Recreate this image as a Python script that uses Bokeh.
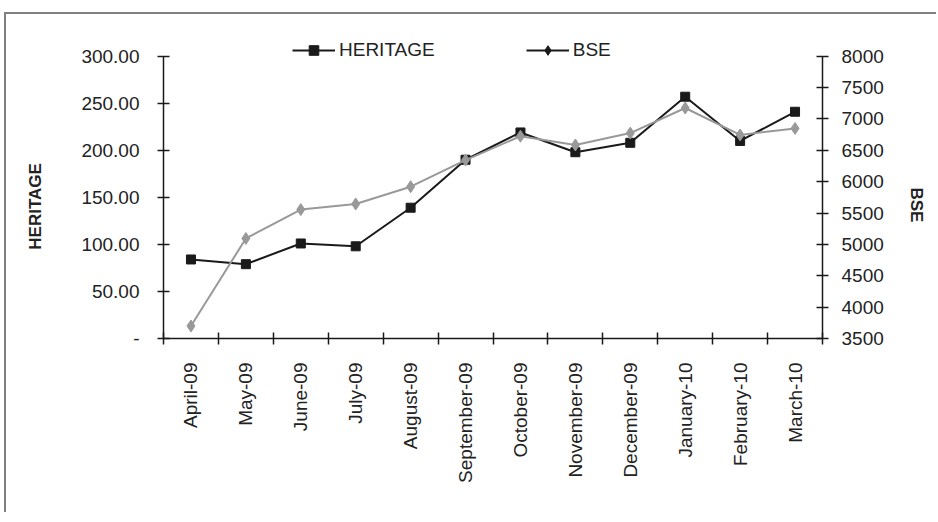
import math
from bokeh.plotting import figure
from bokeh.models import Range1d, LinearAxis, FixedTicker, Legend, LegendItem
from bokeh.embed import file_html
from bokeh.resources import INLINE

months = ["April-09", "May-09", "June-09", "July-09", "August-09", "September-09",
          "October-09", "November-09", "December-09", "January-10", "February-10", "March-10"]
heritage = [84, 79, 101, 98, 139, 190, 219, 198, 208, 257, 210, 241]
bse = [3700, 5095, 5555, 5645, 5920, 6345, 6725, 6585, 6775, 7175, 6745, 6850]

left_ticks = [0, 50, 100, 150, 200, 250, 300]
left_tick_labels = ["-", "50.00", "100.00", "150.00", "200.00", "250.00", "300.00"]
right_ticks = [3500, 4000, 4500, 5000, 5500, 6000, 6500, 7000, 7500, 8000]

FONT = "Liberation Sans"
TXT = "#222222"
AX = "#1a1a1a"
PAD = "\u00a0" * 8  # keeps the rotated axis titles a little below the axis centre

x = list(range(len(months)))

p = figure(width=932, height=500, output_backend="svg", toolbar_location=None,
           x_range=Range1d(-0.5, len(months) - 0.5), y_range=Range1d(0, 321),
           min_border_left=157, min_border_right=115, min_border_top=22,
           min_border_bottom=176)
# "key" range only carries the black legend swatch of BSE (its data falls outside the frame)
p.extra_y_ranges = {"bse": Range1d(3500, 8315), "key": Range1d(0, 1)}
p.styles = {"margin-left": "4px", "margin-top": "12px",
            "border-left": "2px solid #808080", "border-top": "2px solid #808080"}
p.outline_line_color = None
p.xgrid.visible = False
p.ygrid.visible = False
p.background_fill_color = "white"
p.border_fill_color = "white"

# left axis
ya = p.yaxis[0]
ya.ticker = FixedTicker(ticks=left_ticks)
ya.major_label_overrides = {t: l for t, l in zip(left_ticks, left_tick_labels)}
ya.axis_label = "HERITAGE" + PAD
ya.bounds = (left_ticks[0], left_ticks[-1])

# right axis
ra = LinearAxis(y_range_name="bse", ticker=FixedTicker(ticks=right_ticks))
ra.bounds = (right_ticks[0], right_ticks[-1])
try:
    ra.axis_label_orientation = -math.pi / 2
    ra.axis_label = "BSE" + PAD
except Exception:
    ra.axis_label = PAD + "BSE"
p.add_layout(ra, "right")

# bottom axis
xa = p.xaxis[0]
xa.ticker = FixedTicker(ticks=x, minor_ticks=[i - 0.5 for i in range(len(months) + 1)])
xa.major_label_overrides = {i: m for i, m in enumerate(months)}
xa.major_label_orientation = math.pi / 2
xa.major_tick_line_color = None
xa.major_tick_in = 0
xa.major_tick_out = 0
xa.minor_tick_in = 6
xa.minor_tick_out = 6
xa.minor_tick_line_color = AX
xa.minor_tick_line_width = 1.5
xa.major_label_standoff = 18

for ax in (ya, ra, xa):
    ax.axis_line_color = AX
    ax.axis_line_width = 1.5
    ax.major_label_text_font = FONT
    ax.major_label_text_font_size = "19px"
    ax.major_label_text_color = TXT
    ax.axis_label_text_font = FONT
    ax.axis_label_text_font_size = "17px"
    ax.axis_label_text_font_style = "bold"
    ax.axis_label_text_color = TXT

for ax in (ya, ra):
    ax.major_tick_in = 6
    ax.major_tick_out = 6
    ax.major_tick_line_color = AX
    ax.major_tick_line_width = 1.5
    ax.minor_tick_line_color = None

ya.major_label_standoff = 18
ya.axis_label_standoff = 33
ra.major_label_standoff = 13
ra.axis_label_standoff = 30

# series
hl = p.line(x, heritage, line_color=AX, line_width=2)
hs = p.scatter(x, heritage, marker="square", size=9, fill_color=AX, line_color=AX)
bl = p.line(x, bse, line_color="#999999", line_width=2, y_range_name="bse")
bs = p.scatter(x, bse, marker="diamond", size=12, fill_color="#999999", line_color="#999999",
               y_range_name="bse")

# black legend swatch for BSE, as in the reference legend
bl_key = p.line(x, bse, line_color=AX, line_width=2, y_range_name="key")
bs_key = p.scatter(x, bse, marker="diamond", size=12, fill_color=AX, line_color=AX,
                   y_range_name="key")

legend = Legend(items=[LegendItem(label="HERITAGE", renderers=[hl, hs]),
                       LegendItem(label="BSE", renderers=[bl_key, bs_key])],
                orientation="horizontal", location=(129, 276),
                glyph_width=43, glyph_height=24, label_standoff=4, spacing=91,
                padding=0, margin=0, border_line_color=None, background_fill_alpha=0,
                label_text_font=FONT, label_text_font_size="19px", label_text_color=TXT)
p.add_layout(legend, "center")

open("out.html", "w").write(file_html(p, INLINE))
